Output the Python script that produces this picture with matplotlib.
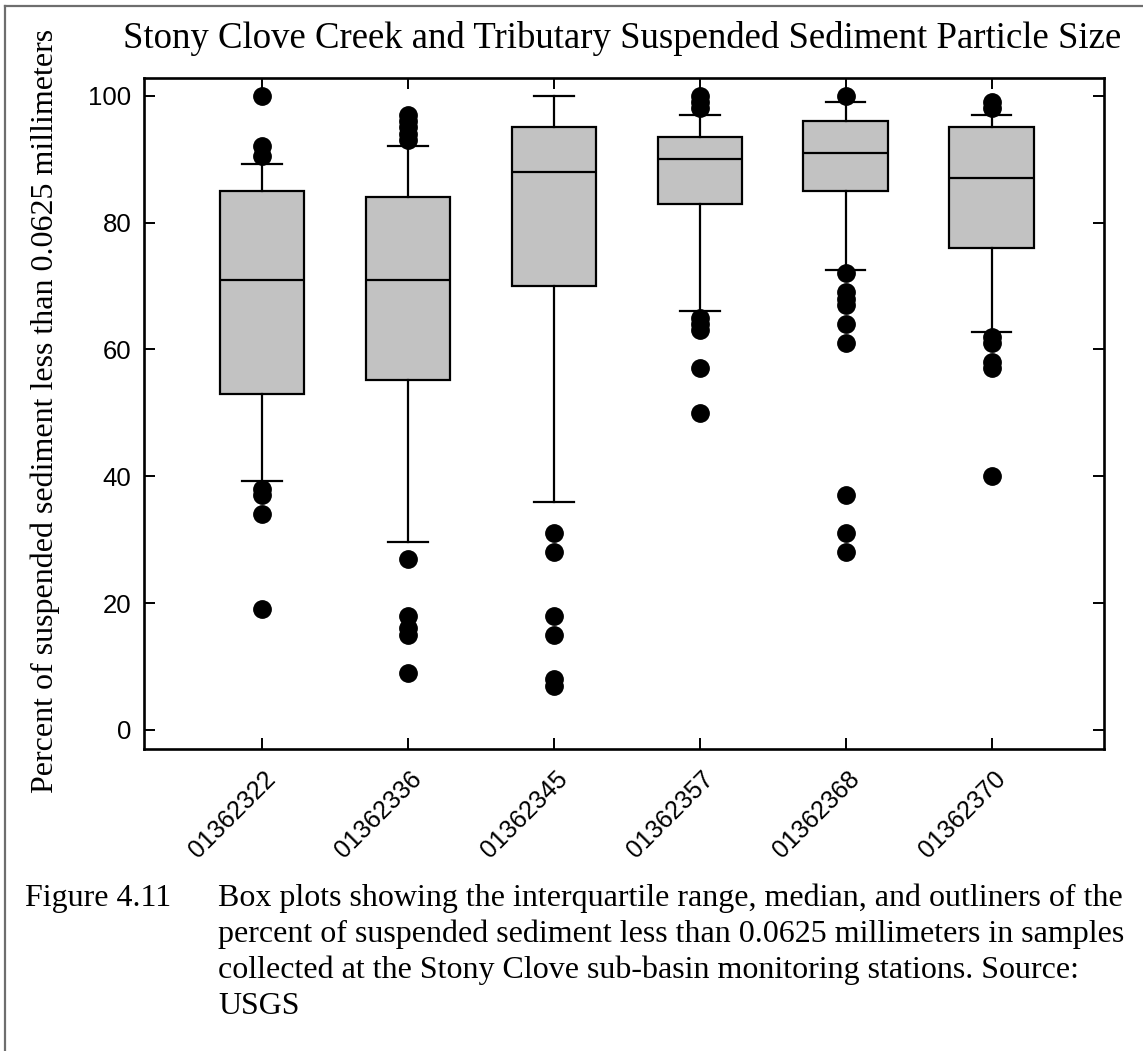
import matplotlib.pyplot as plt
import matplotlib.transforms as mtransforms
from matplotlib.lines import Line2D

# station ids
stations = ["01362322", "01362336", "01362345", "01362357", "01362368", "01362370"]

# box stats (percent finer than 0.0625 mm)
q1 = [53, 55.2, 70, 83, 85, 76]
medians = [71, 71, 88, 90, 91, 87]
q3 = [85, 84, 95, 93.5, 96, 95]
whis_lo = [39.2, 29.6, 36, 66, 72.5, 62.8]
whis_hi = [89.2, 92, 100, 97, 99, 97]

outliers = [
    [100, 92, 90.5, 38, 37, 34, 19],
    [97, 96, 95, 94, 93, 27, 18, 16, 15, 9],
    [31, 28, 18, 15, 8, 7],
    [100, 99, 98, 65, 64, 63, 57, 50],
    [100, 72, 69, 68, 67, 64, 61, 37, 31, 28],
    [99, 98, 62, 61, 58, 57, 40],
]

yticks = [0, 20, 40, 60, 80, 100]

caption_head = "Figure 4.11"
caption_lines = [
    "Box plots showing the interquartile range, median, and outliners of the",
    "percent of suspended sediment less than 0.0625 millimeters in samples",
    "collected at the Stony Clove sub-basin monitoring stations. Source:",
    "USGS",
]

W, H = 1143, 1051
fig = plt.figure(figsize=(W / 100, H / 100), dpi=100)
ax = fig.add_axes([144 / W, 1 - 749 / H, (1104 - 144) / W, (749 - 78) / H])

stats = []
for i in range(len(stations)):
    stats.append({
        "label": stations[i],
        "q1": q1[i], "med": medians[i], "q3": q3[i],
        "whislo": whis_lo[i], "whishi": whis_hi[i],
        "fliers": outliers[i],
    })

lw = 1.6
ax.bxp(stats, positions=range(1, len(stations) + 1), widths=0.58,
       patch_artist=True, capwidths=0.27,
       boxprops=dict(facecolor="#c2c2c2", edgecolor="black", linewidth=lw),
       medianprops=dict(color="black", linewidth=lw),
       whiskerprops=dict(color="black", linewidth=lw),
       capprops=dict(color="black", linewidth=lw),
       flierprops=dict(marker="o", markerfacecolor="black", markeredgecolor="black",
                       markersize=12.5, linestyle="none"))

ax.set_xlim(0.19, 6.77)
ax.set_ylim(-3, 102.8)
ax.set_yticks(yticks)
ax.set_xticks(range(1, len(stations) + 1))
ax.set_xticklabels(stations, rotation=45, ha="right", rotation_mode="anchor",
                   va="center", fontsize=18, family="Liberation Sans")
for lab in ax.get_yticklabels():
    lab.set_family("Liberation Sans")
    lab.set_fontsize(18.5)
ax.tick_params(direction="in", length=8, width=1.4, top=True, right=True)
ax.tick_params(axis="y", pad=9)
ax.tick_params(axis="x", pad=19)
# shift the rotated station labels a bit to the right
shift = mtransforms.ScaledTranslation(10 / 100, 0, fig.dpi_scale_trans)
for lab in ax.get_xticklabels():
    lab.set_transform(lab.get_transform() + shift)
for s in ax.spines.values():
    s.set_linewidth(1.9)

fig.text(45 / W, 1 - 411 / H,
         "Percent of suspended sediment less than 0.0625 millimeters",
         rotation=90, ha="center", va="center", family="Liberation Serif", fontsize=23)

fig.text(622 / W, 1 - 48 / H,
         "Stony Clove Creek and Tributary Suspended Sediment Particle Size",
         ha="center", va="baseline", family="Liberation Serif", fontsize=26.5)

# caption under the chart
fig.text(25 / W, 1 - 906 / H, caption_head, ha="left", va="baseline",
         family="Liberation Serif", fontsize=23)
for k, line in enumerate(caption_lines):
    fig.text(218 / W, 1 - (906 + 36 * k) / H, line, ha="left", va="baseline",
             family="Liberation Serif", fontsize=23)

# page frame (left and top edge only, as in the scan)
fig.add_artist(Line2D([5 / W, 5 / W], [0, 1 - 6 / H], transform=fig.transFigure,
                      color="#6e6e6e", linewidth=1.6))
fig.add_artist(Line2D([5 / W, 1], [1 - 6 / H, 1 - 6 / H], transform=fig.transFigure,
                      color="#6e6e6e", linewidth=1.6))

fig.savefig("out.png", dpi=100, facecolor="white")
